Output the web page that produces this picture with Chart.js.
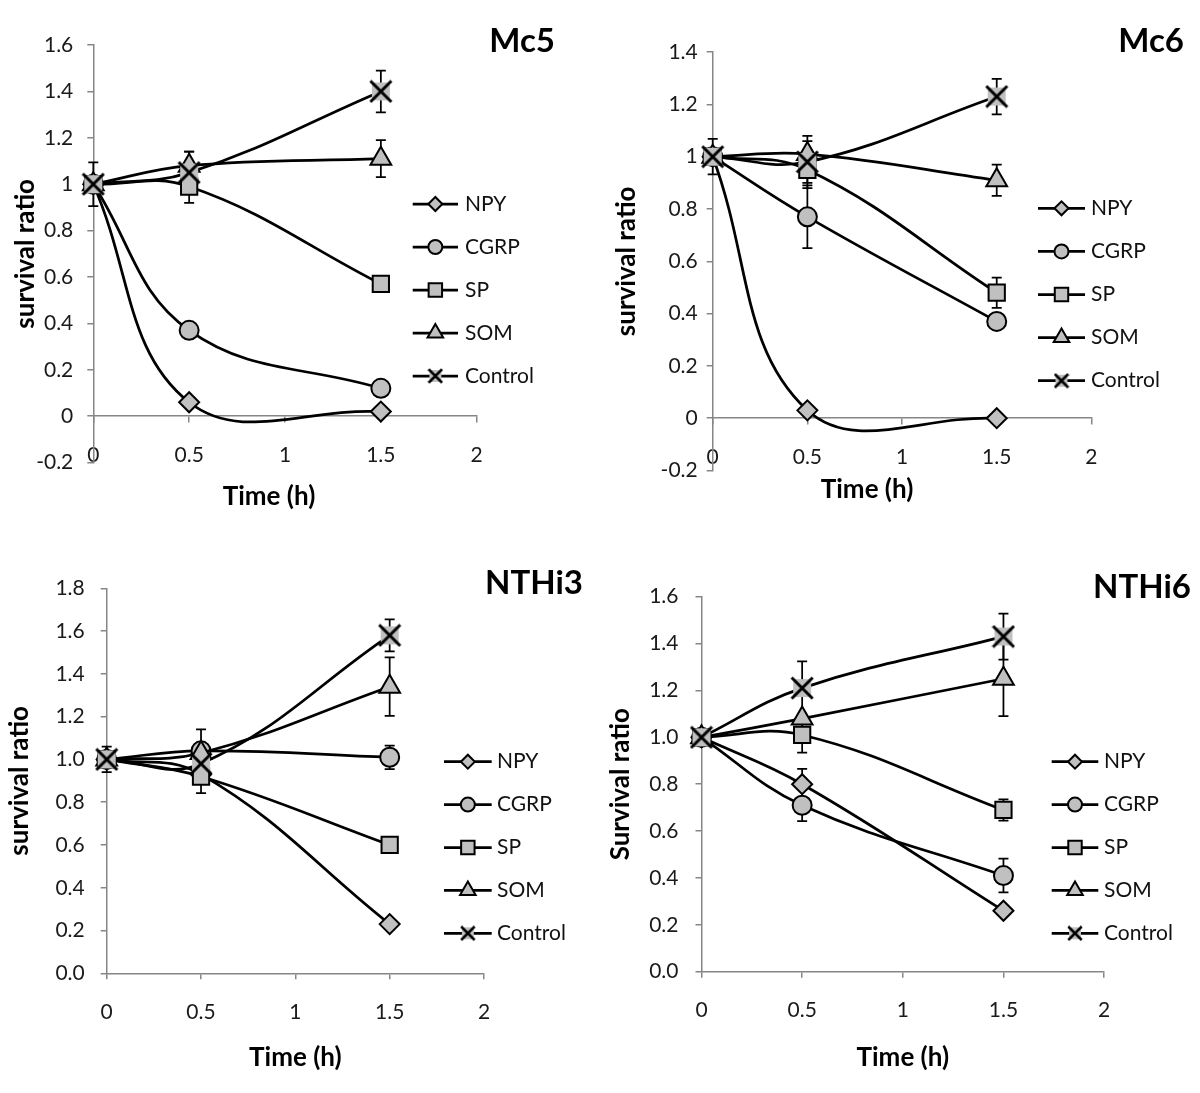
<!DOCTYPE html>
<html>
<head>
<meta charset="utf-8">
<script src="https://cdn.jsdelivr.net/npm/chart.js@4.4.1/dist/chart.umd.min.js"></script>
<style>
  html, body { margin: 0; padding: 0; background: #fff; }
  #wrap { position: relative; width: 1200px; height: 1093px; }
  #wrap canvas { position: absolute; }
</style>
</head>
<body>
<div id="wrap">
  <canvas id="mc5" width="600" height="546" style="left:0;top:0"></canvas>
  <canvas id="mc6" width="600" height="546" style="left:600px;top:0"></canvas>
  <canvas id="nthi3" width="600" height="547" style="left:0;top:546px"></canvas>
  <canvas id="nthi6" width="600" height="547" style="left:600px;top:546px"></canvas>
</div>
<script>
// Tiempos y series
const timePoints = [0, 0.5, 1.5];
const seriesNames = ['NPY', 'CGRP', 'SP', 'SOM', 'Control'];
const xTickLabels = ['0', '0.5', '1', '1.5', '2'];

// Mc5
const mc5NPY = [1, 0.06, 0.02];
const mc5CGRP = [1, 0.37, 0.12];
const mc5SP = [1, 0.99, 0.57];
const mc5SOM = [1, 1.08, 1.11];
const mc5Control = [1, 1.05, 1.40];
const mc5Errors = [[0, 0, 0], [0, 0, 0], [0, 0.07, 0], [0, 0.06, 0.08], [0.094, 0.09, 0.09]];
const mc5YTicks = ['-0.2', '0', '0.2', '0.4', '0.6', '0.8', '1', '1.2', '1.4', '1.6'];

// Mc6
const mc6NPY = [1, 0.03, 0.00];
const mc6CGRP = [1, 0.77, 0.37];
const mc6SP = [1, 0.95, 0.48];
const mc6SOM = [1, 1.01, 0.91];
const mc6Control = [1, 0.98, 1.23];
const mc6Errors = [[0, 0, 0], [0, 0.12, 0], [0, 0.07, 0.058], [0, 0.07, 0.06], [0.068, 0.08, 0.068]];
const mc6YTicks = ['-0.2', '0', '0.2', '0.4', '0.6', '0.8', '1', '1.2', '1.4'];

// NTHi3
const nthi3NPY = [1, 0.93, 0.23];
const nthi3CGRP = [1, 1.04, 1.01];
const nthi3SP = [1, 0.92, 0.60];
const nthi3SOM = [1, 1.03, 1.34];
const nthi3Control = [1, 0.98, 1.58];
const nthi3Errors = [[0, 0, 0], [0, 0.10, 0.055], [0, 0.078, 0.035], [0, 0, 0.137], [0.06, 0.05, 0.075]];
const nthi3YTicks = ['0.0', '0.2', '0.4', '0.6', '0.8', '1.0', '1.2', '1.4', '1.6', '1.8'];

// NTHi6
const nthi6NPY = [1, 0.80, 0.26];
const nthi6CGRP = [1, 0.71, 0.41];
const nthi6SP = [1, 1.01, 0.69];
const nthi6SOM = [1, 1.08, 1.25];
const nthi6Control = [1, 1.21, 1.43];
const nthi6Errors = [[0, 0.065, 0], [0, 0.068, 0.072], [0, 0.075, 0.045], [0, 0, 0.16], [0.03, 0.114, 0.098]];
const nthi6YTicks = ['0.0', '0.2', '0.4', '0.6', '0.8', '1.0', '1.2', '1.4', '1.6'];

const FONT = 'Lato';
const GRAY = '#c0c0c0';
const AXIS = '#868686';

Chart.defaults.font.family = FONT;
Chart.defaults.color = '#1a1a1a';

// marcador X con fondo gris (como Excel)
function crossMarker(size, box, lw) {
  const c = document.createElement('canvas');
  c.width = size; c.height = size;
  const g = c.getContext('2d');
  const m = size / 2;
  g.fillStyle = GRAY;
  g.fillRect(m - box / 2, m - box / 2, box, box);
  g.strokeStyle = '#000';
  g.lineWidth = lw;
  const a = m - lw / 2;
  g.beginPath();
  g.moveTo(m - a, m - a); g.lineTo(m + a, m + a);
  g.moveTo(m + a, m - a); g.lineTo(m - a, m + a);
  g.stroke();
  return c;
}

const markers = [
  { style: 'rectRot', radius: 10, legendRadius: 7 },
  { style: 'circle', radius: 9.5, legendRadius: 7 },
  { style: 'rect', radius: 11.5, legendRadius: 9.5 },
  { style: 'triangle', radius: 12, legendRadius: 9 },
  { style: crossMarker(24, 18, 3), radius: 11, legend: crossMarker(16, 12, 2.5), legendRadius: 7 }
];

function labelFrom(list) {
  return v => {
    const s = list.find(l => Math.abs(parseFloat(l) - v) < 1e-6);
    return s === undefined ? '' : s;
  };
}

function buildDatasets(values, errors) {
  return values.map((vals, i) => ({
    label: seriesNames[i],
    data: vals.map((v, j) => ({ x: timePoints[j], y: v })),
    errorBars: errors[i],
    borderColor: '#000',
    borderWidth: 2.75,
    tension: 0.4,
    fill: false,
    clip: false,
    pointStyle: markers[i].style,
    pointRadius: markers[i].radius,
    pointHoverRadius: markers[i].radius,
    pointBackgroundColor: GRAY,
    pointBorderColor: '#000',
    pointBorderWidth: 2,
    order: seriesNames.length - i
  }));
}

// barras de error
const errorBarPlugin = {
  id: 'errorBars',
  beforeDatasetsDraw(chart) {
    const ctx = chart.ctx, ys = chart.scales.y;
    ctx.save();
    ctx.strokeStyle = '#000';
    ctx.lineWidth = 1.75;
    chart.data.datasets.forEach((ds, i) => {
      const meta = chart.getDatasetMeta(i);
      meta.data.forEach((pt, j) => {
        const e = ds.errorBars[j];
        if (!e) return;
        const v = ds.data[j].y;
        const top = ys.getPixelForValue(v + e);
        const bot = ys.getPixelForValue(v - e);
        ctx.beginPath();
        ctx.moveTo(pt.x, top); ctx.lineTo(pt.x, bot);
        ctx.moveTo(pt.x - 5, top); ctx.lineTo(pt.x + 5, top);
        ctx.moveTo(pt.x - 5, bot); ctx.lineTo(pt.x + 5, bot);
        ctx.stroke();
      });
    });
    ctx.restore();
  }
};

// leyenda, titulo del panel y titulo del eje x
const overlayPlugin = {
  id: 'overlay',
  afterDraw(chart, args, opts) {
    const ctx = chart.ctx;
    ctx.save();
    chart.data.datasets.forEach((ds, i) => {
      const ly = opts.legY0 + i * opts.legStep;
      ctx.strokeStyle = '#000';
      ctx.lineWidth = 2.75;
      ctx.beginPath(); ctx.moveTo(opts.legX1, ly); ctx.lineTo(opts.legX2, ly); ctx.stroke();
      const mk = markers[i];
      ctx.fillStyle = GRAY;
      ctx.lineWidth = 2;
      Chart.helpers.drawPoint(ctx, {
        pointStyle: mk.legend || mk.style, radius: mk.legendRadius, rotation: 0, borderWidth: 2
      }, (opts.legX1 + opts.legX2) / 2, ly);
      ctx.fillStyle = '#111';
      ctx.font = '21px ' + FONT;
      ctx.textAlign = 'left';
      ctx.textBaseline = 'middle';
      ctx.fillText(ds.label, opts.legTextX, ly);
    });
    ctx.fillStyle = '#000';
    ctx.textBaseline = 'middle';
    ctx.font = 'bold 33px ' + FONT;
    ctx.textAlign = 'right';
    ctx.fillText(opts.title, opts.titleX, opts.titleY);
    const xs = chart.scales.x;
    ctx.font = 'bold 26px ' + FONT;
    ctx.textAlign = 'center';
    ctx.fillText('Time (h)', (xs.left + xs.right) / 2 + opts.xTitleShift, opts.xTitleY);
    ctx.restore();
  }
};

function makePanel(id, p) {
  new Chart(document.getElementById(id), {
    type: 'line',
    data: { datasets: buildDatasets(p.values, p.errors) },
    options: {
      responsive: false,
      animation: false,
      devicePixelRatio: 1,
      layout: { padding: p.padding },
      events: [],
      scales: {
        x: {
          type: 'linear',
          min: 0, max: 2,
          position: p.xPos,
          ticks: { stepSize: 0.5, autoSkip: false, maxRotation: 0, padding: 20,
                   font: { size: 21 }, callback: labelFrom(xTickLabels) },
          grid: { drawOnChartArea: false, drawTicks: true, tickLength: 6, color: AXIS, lineWidth: 1.5 },
          border: { color: AXIS, width: 1.5 },
          afterFit(s) { s.height = p.xHeight; }
        },
        y: {
          min: p.yMin, max: p.yMax,
          ticks: { stepSize: 0.2, autoSkip: false, padding: p.yTickPad,
                   font: { size: 21 }, callback: labelFrom(p.yTicks) },
          grid: { drawOnChartArea: false, drawTicks: true, tickLength: 6, color: AXIS, lineWidth: 1.5 },
          border: { color: AXIS, width: 1.5 },
          title: { display: true, text: p.yTitle, color: '#000',
                   font: { size: 26, weight: 'bold' }, padding: { top: p.yTitlePad, bottom: 0 } },
          afterFit(s) { s.width = p.yWidth; }
        }
      },
      plugins: {
        legend: { display: false },
        tooltip: { enabled: false },
        overlay: p.overlay
      }
    },
    plugins: [errorBarPlugin, overlayPlugin]
  });
}

makePanel('mc5', {
  values: [mc5NPY, mc5CGRP, mc5SP, mc5SOM, mc5Control], errors: mc5Errors,
  yMin: -0.2, yMax: 1.6, yTicks: mc5YTicks, yTitle: 'survival ratio',
  yTitlePad: 10.4, yWidth: 93.3, yTickPad: 14,
  padding: { left: 0, top: 45, right: 123.3, bottom: 83.4 },
  xPos: { y: 0 }, xHeight: 0,
  overlay: { legX1: 412.7, legX2: 458, legTextX: 465, legY0: 204, legStep: 43,
             title: 'Mc5', titleX: 555, titleY: 41, xTitleY: 497, xTitleShift: -16 }
});

makePanel('mc6', {
  values: [mc6NPY, mc6CGRP, mc6SP, mc6SOM, mc6Control], errors: mc6Errors,
  yMin: -0.2, yMax: 1.4, yTicks: mc6YTicks, yTitle: 'survival ratio',
  yTitlePad: 11.4, yWidth: 112.7, yTickPad: 9,
  padding: { left: 0, top: 52.1, right: 108.6, bottom: 75.5 },
  xPos: { y: 0 }, xHeight: 0,
  overlay: { legX1: 438, legX2: 485, legTextX: 491, legY0: 208.3, legStep: 43.1,
             title: 'Mc6', titleX: 584, titleY: 41, xTitleY: 490, xTitleShift: -35 }
});

makePanel('nthi3', {
  values: [nthi3NPY, nthi3CGRP, nthi3SP, nthi3SOM, nthi3Control], errors: nthi3Errors,
  yMin: 0, yMax: 1.8, yTicks: nthi3YTicks, yTitle: 'survival ratio',
  yTitlePad: 4.4, yWidth: 106.7, yTickPad: 16,
  padding: { left: 0, top: 42.3, right: 116, bottom: 0 },
  xPos: 'bottom', xHeight: 119.7,
  overlay: { legX1: 444, legX2: 491.7, legTextX: 497, legY0: 215.7, legStep: 42.9,
             title: 'NTHi3', titleX: 583, titleY: 37, xTitleY: 512, xTitleShift: 0 }
});

makePanel('nthi6', {
  values: [nthi6NPY, nthi6CGRP, nthi6SP, nthi6SOM, nthi6Control], errors: nthi6Errors,
  yMin: 0, yMax: 1.6, yTicks: nthi6YTicks, yTitle: 'Survival ratio',
  yTitlePad: 5.4, yWidth: 101.5, yTickPad: 17,
  padding: { left: 0, top: 50.7, right: 95.9, bottom: 0 },
  xPos: 'bottom', xHeight: 121.3,
  overlay: { legX1: 451.7, legX2: 498.3, legTextX: 504, legY0: 215.7, legStep: 42.9,
             title: 'NTHi6', titleX: 591, titleY: 41, xTitleY: 512, xTitleShift: 0 }
});
</script>
</body>
</html>
